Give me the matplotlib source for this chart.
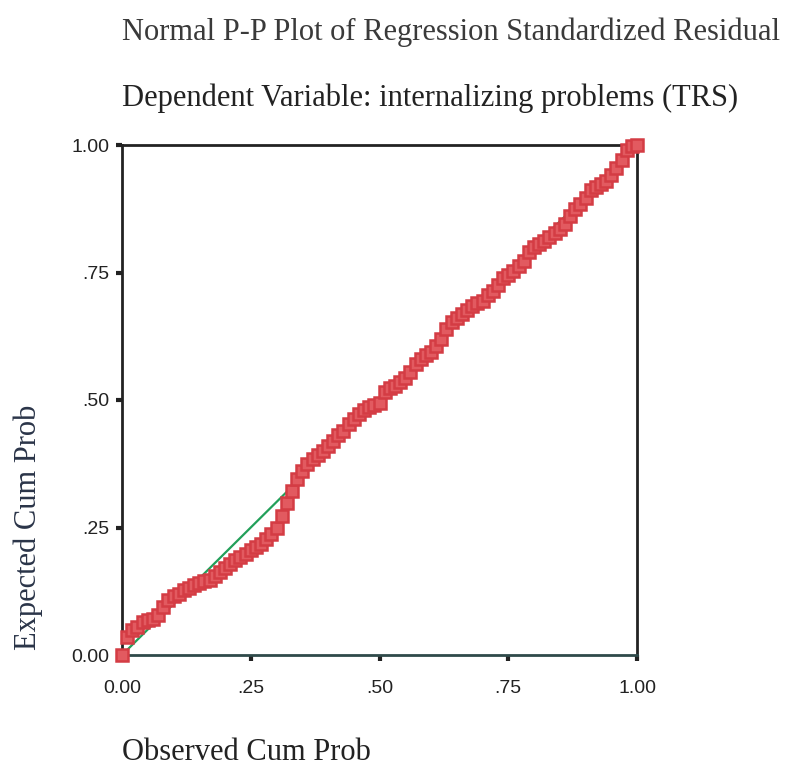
import matplotlib
matplotlib.use("Agg")
import matplotlib.pyplot as plt

observed = [0.00, 0.01, 0.02, 0.03, 0.04, 0.05, 0.06, 0.07, 0.08, 0.09,
            0.10, 0.11, 0.12, 0.13, 0.14, 0.15, 0.16, 0.17, 0.18, 0.19,
            0.20, 0.21, 0.22, 0.23, 0.24, 0.25, 0.26, 0.27, 0.28, 0.29,
            0.30, 0.31, 0.32, 0.33, 0.34, 0.35, 0.36, 0.37, 0.38, 0.39,
            0.40, 0.41, 0.42, 0.43, 0.44, 0.45, 0.46, 0.47, 0.48, 0.49,
            0.50, 0.51, 0.52, 0.53, 0.54, 0.55, 0.56, 0.57, 0.58, 0.59,
            0.60, 0.61, 0.62, 0.63, 0.64, 0.65, 0.66, 0.67, 0.68, 0.69,
            0.70, 0.71, 0.72, 0.73, 0.74, 0.75, 0.76, 0.77, 0.78, 0.79,
            0.80, 0.81, 0.82, 0.83, 0.84, 0.85, 0.86, 0.87, 0.88, 0.89,
            0.90, 0.91, 0.92, 0.93, 0.94, 0.95, 0.96, 0.97, 0.98, 0.99, 1.00]
expected = [0.000, 0.035, 0.050, 0.055, 0.065, 0.068, 0.070, 0.078, 0.095, 0.108,
            0.115, 0.120, 0.127, 0.132, 0.137, 0.142, 0.145, 0.148, 0.155, 0.162,
            0.170, 0.178, 0.187, 0.193, 0.198, 0.205, 0.212, 0.218, 0.228, 0.238,
            0.250, 0.272, 0.298, 0.322, 0.345, 0.360, 0.375, 0.385, 0.393, 0.400,
            0.410, 0.420, 0.432, 0.440, 0.452, 0.462, 0.472, 0.480, 0.487, 0.490,
            0.495, 0.515, 0.523, 0.528, 0.535, 0.543, 0.555, 0.570, 0.580, 0.588,
            0.595, 0.605, 0.620, 0.640, 0.652, 0.660, 0.668, 0.677, 0.684, 0.690,
            0.695, 0.705, 0.713, 0.725, 0.740, 0.745, 0.752, 0.762, 0.772, 0.790,
            0.800, 0.805, 0.812, 0.820, 0.828, 0.835, 0.845, 0.860, 0.875, 0.885,
            0.897, 0.912, 0.918, 0.923, 0.930, 0.942, 0.955, 0.970, 0.990, 0.998, 1.000]
ref_line = [0.0, 1.0]
tick_vals = [0.0, 0.25, 0.5, 0.75, 1.0]
tick_labels = ["0.00", ".25", ".50", ".75", "1.00"]

fig = plt.figure(figsize=(7.97, 7.69), dpi=100)
ax = fig.add_axes([122/797, 114/769, 515/797, 510/769])

ax.plot(ref_line, ref_line, color="#22a05a", lw=1.6, zorder=2)
ax.plot(observed, expected, linestyle="none", marker="s", markersize=8,
        markerfacecolor="#e25a60", markeredgecolor="#d43c44", markeredgewidth=1.8,
        clip_on=False, zorder=3)

ax.set_xlim(0, 1)
ax.set_ylim(0, 1)
ax.set_xticks(tick_vals)
ax.set_xticklabels(tick_labels)
ax.set_yticks(tick_vals)
ax.set_yticklabels(tick_labels)
for sp in ax.spines.values():
    sp.set_linewidth(2)
    sp.set_color("#222222")
ax.spines["bottom"].set_color("#2f4a4a")
ax.tick_params(direction="out", length=4, width=3, color="#222222",
               labelsize=14, labelcolor="#222222", pad=5)
ax.tick_params(axis="x", pad=14)
for lab in ax.get_xticklabels() + ax.get_yticklabels():
    lab.set_fontfamily("Liberation Sans")

serif = "Liberation Serif"
fig.text(122/797, 1 - 40/769, "Normal P-P Plot of Regression Standardized Residual",
         fontsize=22, family=serif, color="#3a3a3a", ha="left", va="baseline")
fig.text(122/797, 1 - 106/769, "Dependent Variable: internalizing problems (TRS)",
         fontsize=22, family=serif, color="#222222", ha="left", va="baseline")
fig.text(122/797, 1 - 760/769, "Observed Cum Prob",
         fontsize=22, family=serif, color="#222222", ha="left", va="baseline")
fig.text(28/797, 1 - 527/769, "Expected Cum Prob",
         fontsize=22, family=serif, color="#2a3448", ha="center", va="center",
         rotation=90)

fig.savefig("out.png", dpi=100)
